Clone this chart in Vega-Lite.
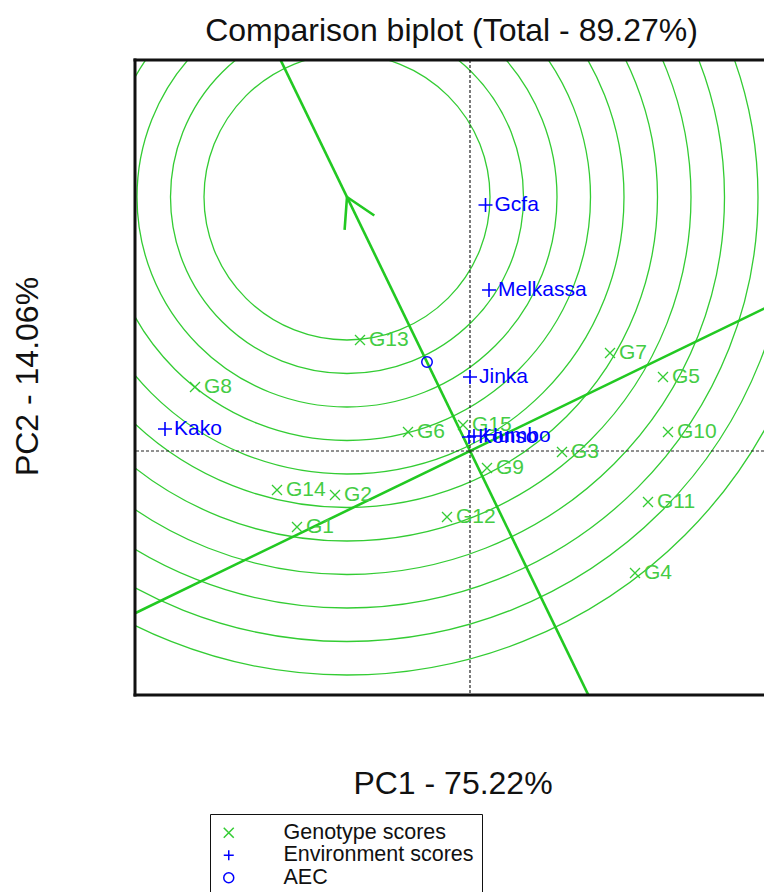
{
  "$schema": "https://vega.github.io/schema/vega-lite/v6.json",
  "width": 629,
  "height": 635,
  "autosize": {"type": "none"},
  "padding": {"left": 135, "top": 60, "right": 0, "bottom": 197},
  "title": {"text": "Comparison biplot (Total - 89.27%)", "fontSize": 32, "font": "Liberation Sans", "fontWeight": "normal", "color": "#111111", "anchor": "middle", "frame": "group", "baseline": "alphabetic", "offset": 17, "dx": 2, "dy": 32},
  "config": {
    "font": "Liberation Sans",
    "view": {"stroke": null},
    "axisX": {"labels": false, "ticks": false, "domain": false, "grid": false, "titleFontSize": 32, "titleFontWeight": "normal", "titleColor": "#111111", "titleX": 317.5, "titleY": 98, "titleBaseline": "alphabetic", "titleAlign": "center"},
    "axisY": {"labels": false, "ticks": false, "domain": false, "grid": false, "titleFontSize": 32, "titleFontWeight": "normal", "titleColor": "#111111", "titleX": -98, "titleY": 316, "titleBaseline": "alphabetic", "titleAlign": "center", "titleAngle": -90},
    "legend": {"orient": "none", "legendX": 75, "legendY": 754, "strokeColor": "#111111", "padding": 8, "labelFontSize": 21.5, "labelFont": "Liberation Sans", "labelColor": "#111111", "labelOffset": 44, "symbolSize": 100, "symbolStrokeWidth": 1.5, "rowPadding": -0.5, "labelLimit": 400}
  },
  "datasets": {
    "geno": [
      {"name": "G1", "type": "Genotype scores", "pc1": -1.73, "pc2": -0.76},
      {"name": "G2", "type": "Genotype scores", "pc1": -1.35, "pc2": -0.44},
      {"name": "G3", "type": "Genotype scores", "pc1": 0.92, "pc2": -0.01},
      {"name": "G4", "type": "Genotype scores", "pc1": 1.65, "pc2": -1.22},
      {"name": "G5", "type": "Genotype scores", "pc1": 1.93, "pc2": 0.74},
      {"name": "G6", "type": "Genotype scores", "pc1": -0.62, "pc2": 0.19},
      {"name": "G7", "type": "Genotype scores", "pc1": 1.40, "pc2": 0.98},
      {"name": "G8", "type": "Genotype scores", "pc1": -2.75, "pc2": 0.64},
      {"name": "G9", "type": "Genotype scores", "pc1": 0.17, "pc2": -0.17},
      {"name": "G10", "type": "Genotype scores", "pc1": 1.98, "pc2": 0.19},
      {"name": "G11", "type": "Genotype scores", "pc1": 1.78, "pc2": -0.51},
      {"name": "G12", "type": "Genotype scores", "pc1": -0.23, "pc2": -0.66},
      {"name": "G13", "type": "Genotype scores", "pc1": -1.10, "pc2": 1.11},
      {"name": "G14", "type": "Genotype scores", "pc1": -1.93, "pc2": -0.39},
      {"name": "G15", "type": "Genotype scores", "pc1": -0.07, "pc2": 0.26}
    ],
    "env": [
      {"name": "Gcfa", "type": "Environment scores", "pc1": 0.155, "pc2": 2.46},
      {"name": "Melkassa", "type": "Environment scores", "pc1": 0.19, "pc2": 1.61},
      {"name": "Jinka", "type": "Environment scores", "pc1": 0.0, "pc2": 0.74},
      {"name": "Kako", "type": "Environment scores", "pc1": -3.05, "pc2": 0.22},
      {"name": "Konso", "type": "Environment scores", "pc1": -0.01, "pc2": 0.14},
      {"name": "Humbo", "type": "Environment scores", "pc1": 0.04, "pc2": 0.15}
    ],
    "aec": [
      {"name": "AEC", "type": "AEC", "pc1": -0.43, "pc2": 0.89}
    ],
    "rings": [
      {"pc1": -1.23, "pc2": 2.54, "r": 1.43},
      {"pc1": -1.23, "pc2": 2.54, "r": 1.765},
      {"pc1": -1.23, "pc2": 2.54, "r": 2.10},
      {"pc1": -1.23, "pc2": 2.54, "r": 2.435},
      {"pc1": -1.23, "pc2": 2.54, "r": 2.77},
      {"pc1": -1.23, "pc2": 2.54, "r": 3.105},
      {"pc1": -1.23, "pc2": 2.54, "r": 3.44},
      {"pc1": -1.23, "pc2": 2.54, "r": 3.775},
      {"pc1": -1.23, "pc2": 2.54, "r": 4.11},
      {"pc1": -1.23, "pc2": 2.54, "r": 4.445},
      {"pc1": -1.23, "pc2": 2.54, "r": 4.78}
    ],
    "axes": [
      {"seg": "aec", "ord": 1, "pc1": -2.5, "pc2": 5.16},
      {"seg": "aec", "ord": 2, "pc1": 1.6, "pc2": -3.30},
      {"seg": "perp", "ord": 1, "pc1": -3.81, "pc2": -1.845},
      {"seg": "perp", "ord": 2, "pc1": 3.556, "pc2": 1.722},
      {"seg": "head", "ord": 1, "pc1": -1.254, "pc2": 2.211},
      {"seg": "head", "ord": 2, "pc1": -1.23, "pc2": 2.54},
      {"seg": "head", "ord": 3, "pc1": -0.957, "pc2": 2.355}
    ]
  },
  "layer": [
    {
      "data": {"name": "rings"},
      "mark": {"type": "point", "shape": "circle", "filled": false, "clip": true, "color": "#33CC33", "strokeWidth": 1.3, "opacity": 1},
      "encoding": {
        "x": {"field": "pc1", "type": "quantitative", "title": "PC1 - 75.22%", "scale": {"domain": [-3.35, 2.94], "nice": false, "zero": false}},
        "y": {"field": "pc2", "type": "quantitative", "title": "PC2 - 14.06%", "scale": {"domain": [-2.44, 3.91], "nice": false, "zero": false}},
        "size": {"field": "r", "type": "quantitative", "scale": {"type": "pow", "exponent": 2, "domain": [0, 5], "range": [0, 1000000]}, "legend": null}
      }
    },
    {
      "data": {"name": "axes"},
      "mark": {"type": "line", "clip": true, "color": "#22C922", "strokeWidth": 2.6},
      "encoding": {
        "x": {"field": "pc1", "type": "quantitative", "title": "PC1 - 75.22%", "scale": {"domain": [-3.35, 2.94], "nice": false, "zero": false}},
        "y": {"field": "pc2", "type": "quantitative", "title": "PC2 - 14.06%", "scale": {"domain": [-2.44, 3.91], "nice": false, "zero": false}},
        "detail": {"field": "seg", "type": "nominal"},
        "order": {"field": "ord", "type": "quantitative"}
      }
    },
    {
      "data": {"values": [{"pc1": 0}]},
      "mark": {"type": "rule", "color": "#222222", "strokeWidth": 1.2, "strokeDash": [3, 2]},
      "encoding": {
        "x": {"field": "pc1", "type": "quantitative", "title": "PC1 - 75.22%", "scale": {"domain": [-3.35, 2.94], "nice": false, "zero": false}}
      }
    },
    {
      "data": {"values": [{"pc2": 0}]},
      "mark": {"type": "rule", "color": "#222222", "strokeWidth": 1.2, "strokeDash": [3, 2]},
      "encoding": {
        "y": {"field": "pc2", "type": "quantitative", "title": "PC2 - 14.06%", "scale": {"domain": [-2.44, 3.91], "nice": false, "zero": false}}
      }
    },
    {
      "data": {"values": [{"pc1": -3.35}]},
      "mark": {"type": "rule", "color": "#111111", "strokeWidth": 3, "strokeCap": "square"},
      "encoding": {
        "x": {"field": "pc1", "type": "quantitative", "title": "PC1 - 75.22%", "scale": {"domain": [-3.35, 2.94], "nice": false, "zero": false}}
      }
    },
    {
      "data": {"values": [{"pc2": 3.91}, {"pc2": -2.44}]},
      "mark": {"type": "rule", "color": "#111111", "strokeWidth": 3, "strokeCap": "square"},
      "encoding": {
        "y": {"field": "pc2", "type": "quantitative", "title": "PC2 - 14.06%", "scale": {"domain": [-2.44, 3.91], "nice": false, "zero": false}}
      }
    },
    {
      "data": {"name": "geno"},
      "mark": {"type": "point", "filled": false, "size": 100, "strokeWidth": 1.3, "opacity": 1},
      "encoding": {
        "x": {"field": "pc1", "type": "quantitative", "title": "PC1 - 75.22%", "scale": {"domain": [-3.35, 2.94], "nice": false, "zero": false}},
        "y": {"field": "pc2", "type": "quantitative", "title": "PC2 - 14.06%", "scale": {"domain": [-2.44, 3.91], "nice": false, "zero": false}},
        "color": {"field": "type", "type": "nominal", "scale": {"domain": ["Genotype scores", "Environment scores", "AEC"], "range": ["#33CC33", "#0000FF", "#0000FF"]}, "legend": {"title": null}},
        "shape": {"field": "type", "type": "nominal", "scale": {"domain": ["Genotype scores", "Environment scores", "AEC"], "range": ["M-1,-1L1,1M-1,1L1,-1", "M-1,0L1,0M0,-1L0,1", "circle"]}, "legend": {"title": null}}
      }
    },
    {
      "data": {"name": "env"},
      "mark": {"type": "point", "filled": false, "size": 196, "strokeWidth": 1.6, "opacity": 1},
      "encoding": {
        "x": {"field": "pc1", "type": "quantitative", "title": "PC1 - 75.22%", "scale": {"domain": [-3.35, 2.94], "nice": false, "zero": false}},
        "y": {"field": "pc2", "type": "quantitative", "title": "PC2 - 14.06%", "scale": {"domain": [-2.44, 3.91], "nice": false, "zero": false}},
        "color": {"field": "type", "type": "nominal", "scale": {"domain": ["Genotype scores", "Environment scores", "AEC"], "range": ["#33CC33", "#0000FF", "#0000FF"]}, "legend": {"title": null}},
        "shape": {"field": "type", "type": "nominal", "scale": {"domain": ["Genotype scores", "Environment scores", "AEC"], "range": ["M-1,-1L1,1M-1,1L1,-1", "M-1,0L1,0M0,-1L0,1", "circle"]}, "legend": {"title": null}}
      }
    },
    {
      "data": {"name": "aec"},
      "mark": {"type": "point", "filled": false, "size": 110, "strokeWidth": 1.5, "opacity": 1},
      "encoding": {
        "x": {"field": "pc1", "type": "quantitative", "title": "PC1 - 75.22%", "scale": {"domain": [-3.35, 2.94], "nice": false, "zero": false}},
        "y": {"field": "pc2", "type": "quantitative", "title": "PC2 - 14.06%", "scale": {"domain": [-2.44, 3.91], "nice": false, "zero": false}},
        "color": {"field": "type", "type": "nominal", "scale": {"domain": ["Genotype scores", "Environment scores", "AEC"], "range": ["#33CC33", "#0000FF", "#0000FF"]}, "legend": {"title": null}},
        "shape": {"field": "type", "type": "nominal", "scale": {"domain": ["Genotype scores", "Environment scores", "AEC"], "range": ["M-1,-1L1,1M-1,1L1,-1", "M-1,0L1,0M0,-1L0,1", "circle"]}, "legend": {"title": null}}
      }
    },
    {
      "data": {"name": "geno"},
      "mark": {"type": "text", "align": "left", "baseline": "middle", "dx": 9, "fontSize": 21, "color": "#44CC44"},
      "encoding": {
        "x": {"field": "pc1", "type": "quantitative", "title": "PC1 - 75.22%", "scale": {"domain": [-3.35, 2.94], "nice": false, "zero": false}},
        "y": {"field": "pc2", "type": "quantitative", "title": "PC2 - 14.06%", "scale": {"domain": [-2.44, 3.91], "nice": false, "zero": false}},
        "text": {"field": "name", "type": "nominal"}
      }
    },
    {
      "data": {"name": "env"},
      "mark": {"type": "text", "align": "left", "baseline": "middle", "dx": 9, "fontSize": 21, "color": "#0000FF"},
      "encoding": {
        "x": {"field": "pc1", "type": "quantitative", "title": "PC1 - 75.22%", "scale": {"domain": [-3.35, 2.94], "nice": false, "zero": false}},
        "y": {"field": "pc2", "type": "quantitative", "title": "PC2 - 14.06%", "scale": {"domain": [-2.44, 3.91], "nice": false, "zero": false}},
        "text": {"field": "name", "type": "nominal"}
      }
    }
  ]
}
